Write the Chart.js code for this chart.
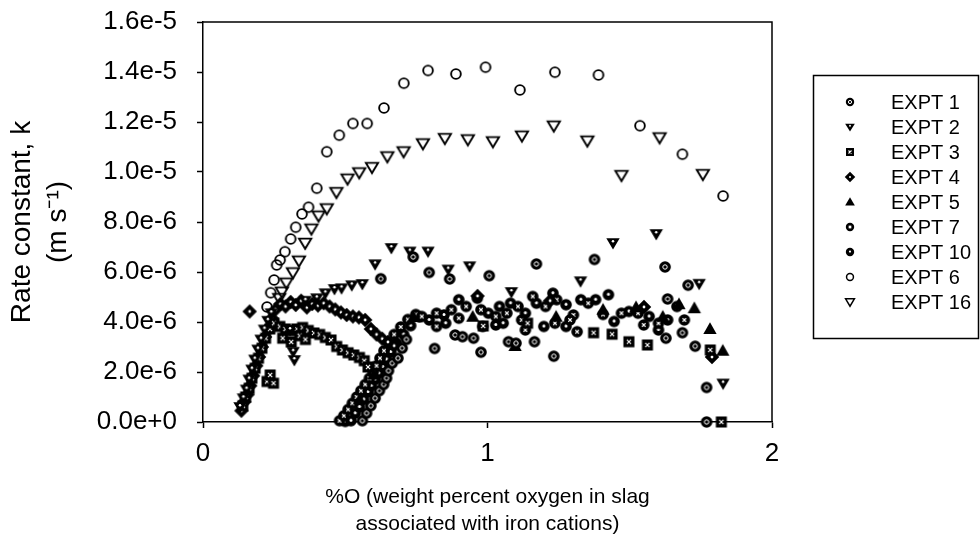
<!DOCTYPE html>
<html>
<head>
<meta charset="utf-8">
<script src="https://cdn.jsdelivr.net/npm/chart.js@4.4.1/dist/chart.umd.min.js"></script>
<style>
html,body{margin:0;padding:0;background:#fff;}
#wrap{width:980px;height:553px;}
</style>
</head>
<body>
<div id="wrap"><canvas id="c" width="980" height="553"></canvas></div>
<script>
// ---------------- DATA (x = %O, y = rate constant k in m/s) ----------------
const seriesNames = ['EXPT 1', 'EXPT 2', 'EXPT 3', 'EXPT 4', 'EXPT 5', 'EXPT 7', 'EXPT 10', 'EXPT 6', 'EXPT 16'];

const expt1 = [[0.625,5.73e-6],[0.739,6.60e-6],[0.795,5.98e-6],[0.867,5.72e-6],[1.006,5.85e-6],[1.172,6.32e-6],[1.376,6.50e-6],[1.624,6.20e-6],[1.705,5.47e-6],[1.633,4.92e-6],[1.730,3.03e-6],[1.770,1.38e-6],[1.770,0.0],[0.814,2.94e-6],[0.977,2.79e-6],[1.233,2.63e-6],[0.886,3.48e-6],[0.912,3.41e-6],[0.951,3.35e-6],[1.074,3.21e-6],[1.100,3.15e-6],[1.165,3.21e-6],[1.627,3.35e-6],[1.685,3.57e-6],[0.560,0.05e-6],[0.575,0.35e-6],[0.590,0.65e-6],[0.605,0.95e-6],[0.620,1.25e-6],[0.635,1.50e-6],[0.645,1.75e-6],[0.652,2.05e-6],[0.665,2.35e-6],[0.685,2.55e-6],[0.700,2.95e-6],[0.715,3.30e-6]];

const expt2 = [[0.130,0.60e-6],[0.142,0.95e-6],[0.153,1.30e-6],[0.162,1.70e-6],[0.172,2.10e-6],[0.182,2.50e-6],[0.193,2.90e-6],[0.204,3.30e-6],[0.216,3.70e-6],[0.228,4.05e-6],[0.240,4.35e-6],[0.306,3.68e-6],[0.317,2.81e-6],[0.321,2.48e-6],[0.360,4.85e-6],[0.400,4.95e-6],[0.430,5.15e-6],[0.462,5.32e-6],[0.487,5.35e-6],[0.523,5.47e-6],[0.560,5.52e-6],[0.605,6.31e-6],[0.662,6.96e-6],[0.727,6.82e-6],[0.791,6.82e-6],[0.862,6.10e-6],[0.937,6.23e-6],[1.084,5.20e-6],[1.327,5.63e-6],[1.441,7.16e-6],[1.593,7.52e-6],[1.744,5.53e-6],[1.828,1.54e-6]];

const expt3 = [[0.140,0.65e-6],[0.150,1.00e-6],[0.162,1.35e-6],[0.172,1.75e-6],[0.183,2.15e-6],[0.195,2.55e-6],[0.207,2.95e-6],[0.220,3.35e-6],[0.235,3.72e-6],[0.250,3.95e-6],[0.225,1.62e-6],[0.248,1.55e-6],[0.236,1.88e-6],[0.270,3.82e-6],[0.290,3.72e-6],[0.310,3.65e-6],[0.330,3.72e-6],[0.350,3.78e-6],[0.370,3.66e-6],[0.390,3.56e-6],[0.410,3.50e-6],[0.430,3.38e-6],[0.450,3.28e-6],[0.470,3.02e-6],[0.490,2.88e-6],[0.510,2.77e-6],[0.530,2.68e-6],[0.550,2.58e-6],[0.567,2.45e-6],[0.580,2.20e-6],[0.280,3.35e-6],[0.310,3.20e-6],[0.340,3.45e-6],[0.360,3.30e-6],[0.985,3.84e-6],[1.141,3.95e-6],[1.373,3.57e-6],[1.438,3.51e-6],[1.497,3.21e-6],[1.562,3.08e-6],[1.783,2.88e-6],[1.822,0.0]];

const expt4 = [[0.135,0.45e-6],[0.145,0.80e-6],[0.157,1.10e-6],[0.166,1.45e-6],[0.176,1.85e-6],[0.187,2.25e-6],[0.197,2.60e-6],[0.207,3.00e-6],[0.218,3.40e-6],[0.229,3.75e-6],[0.242,4.15e-6],[0.255,4.50e-6],[0.164,4.42e-6],[0.272,4.72e-6],[0.290,4.62e-6],[0.308,4.80e-6],[0.326,4.68e-6],[0.345,4.85e-6],[0.365,4.58e-6],[0.384,4.72e-6],[0.404,4.66e-6],[0.424,4.75e-6],[0.445,4.62e-6],[0.465,4.50e-6],[0.485,4.38e-6],[0.505,4.28e-6],[0.527,4.22e-6],[0.548,4.18e-6],[0.570,4.08e-6],[0.590,3.72e-6],[0.610,3.50e-6],[0.630,3.33e-6],[0.650,3.20e-6],[0.672,3.05e-6],[0.965,5.04e-6],[1.220,4.85e-6],[1.550,4.60e-6],[1.789,2.60e-6]];

const expt5 = [[0.550,0.90e-6],[0.600,1.90e-6],[0.680,3.20e-6],[0.740,4.20e-6],[0.948,4.21e-6],[1.097,3.04e-6],[1.241,4.21e-6],[1.406,4.49e-6],[1.522,4.59e-6],[1.616,4.21e-6],[1.673,4.71e-6],[1.727,4.55e-6],[1.782,3.72e-6],[1.827,2.85e-6]];

const expt7 = [[0.480,0.05e-6],[0.495,0.25e-6],[0.510,0.50e-6],[0.525,0.75e-6],[0.540,1.00e-6],[0.555,1.25e-6],[0.570,1.50e-6],[0.585,1.75e-6],[0.598,2.00e-6],[0.610,2.25e-6],[0.622,2.55e-6],[0.636,2.85e-6],[0.652,3.15e-6],[0.672,3.50e-6],[0.695,3.80e-6],[0.720,4.10e-6],[0.748,4.30e-6],[0.769,4.22e-6],[0.821,4.35e-6],[0.873,4.49e-6],[0.925,4.62e-6],[0.977,4.49e-6],[1.029,4.22e-6],[1.068,4.35e-6],[1.107,4.62e-6],[1.159,5.02e-6],[1.204,4.62e-6],[1.243,4.89e-6],[1.302,4.28e-6],[1.354,4.75e-6],[1.406,4.30e-6],[1.471,4.35e-6],[1.529,4.35e-6],[1.601,3.95e-6],[1.666,4.62e-6],[1.692,4.08e-6],[0.899,4.15e-6],[1.120,4.08e-6],[1.290,4.08e-6],[1.549,3.88e-6],[0.821,3.82e-6],[0.983,3.82e-6],[1.133,3.68e-6],[1.237,3.95e-6],[1.315,3.61e-6]];

const expt10 = [[0.500,0.02e-6],[0.520,0.05e-6],[0.535,0.35e-6],[0.550,0.60e-6],[0.565,0.90e-6],[0.580,1.20e-6],[0.592,1.45e-6],[0.605,1.70e-6],[0.618,1.95e-6],[0.632,2.20e-6],[0.645,2.50e-6],[0.660,2.80e-6],[0.680,3.15e-6],[0.705,3.50e-6],[0.730,3.85e-6],[0.760,4.20e-6],[0.795,4.08e-6],[0.847,4.28e-6],[0.899,4.89e-6],[0.964,4.95e-6],[1.003,4.35e-6],[1.042,4.62e-6],[1.081,4.75e-6],[1.133,4.35e-6],[1.172,4.75e-6],[1.230,5.15e-6],[1.276,4.69e-6],[1.328,4.89e-6],[1.380,4.89e-6],[1.425,5.09e-6],[1.497,4.42e-6],[1.568,4.22e-6],[1.633,4.08e-6],[0.853,3.95e-6],[1.029,3.88e-6],[1.198,3.82e-6],[1.276,3.82e-6],[1.055,3.95e-6],[1.445,4.02e-6],[1.601,3.68e-6]];

const expt6 = [[0.225,4.60e-6],[0.238,5.17e-6],[0.250,5.68e-6],[0.259,6.28e-6],[0.271,6.48e-6],[0.288,6.81e-6],[0.308,7.32e-6],[0.326,7.79e-6],[0.348,8.32e-6],[0.371,8.59e-6],[0.400,9.35e-6],[0.435,10.81e-6],[0.479,11.47e-6],[0.527,11.94e-6],[0.577,11.94e-6],[0.636,12.56e-6],[0.706,13.55e-6],[0.791,14.06e-6],[0.889,13.92e-6],[0.993,14.19e-6],[1.114,13.28e-6],[1.237,13.99e-6],[1.390,13.88e-6],[1.536,11.85e-6],[1.685,10.71e-6],[1.828,9.04e-6]];

const expt16 = [[0.268,4.95e-6],[0.277,5.21e-6],[0.293,5.57e-6],[0.316,5.98e-6],[0.337,6.45e-6],[0.359,7.16e-6],[0.381,7.73e-6],[0.406,8.25e-6],[0.435,8.54e-6],[0.469,9.19e-6],[0.508,9.73e-6],[0.549,9.98e-6],[0.594,10.19e-6],[0.648,10.62e-6],[0.705,10.82e-6],[0.773,11.14e-6],[0.850,11.35e-6],[0.931,11.30e-6],[1.019,11.22e-6],[1.121,11.45e-6],[1.233,11.85e-6],[1.351,11.25e-6],[1.471,9.87e-6],[1.605,11.38e-6],[1.757,9.91e-6]];

const xTicks = [0, 1, 2];
const yTickStep = 2e-6;
const yMax = 1.6e-5;

const seriesData = [expt1, expt2, expt3, expt4, expt5, expt7, expt10, expt6, expt16];
const markerKinds = ['circleRing', 'triDownDot', 'squareX', 'diamondDot', 'triUp', 'circleX', 'circleDot', 'circleOpen', 'triDownOpen'];

// ---------------- MARKERS ----------------
function makeMarker(kind, R, lw) {
  let S = Math.ceil(R * 2.7) + 3; if (S % 2) S += 1;
  const c = document.createElement('canvas');
  c.width = S; c.height = S;
  const g = c.getContext('2d');
  const cx = S / 2, cy = S / 2;
  g.fillStyle = '#000'; g.strokeStyle = '#000';
  const disk = () => { g.beginPath(); g.arc(cx, cy, R, 0, Math.PI * 2); g.fill(); };
  const whiteX = (r, w) => { g.strokeStyle = '#fff'; g.lineWidth = w; g.beginPath();
    g.moveTo(cx - r, cy - r); g.lineTo(cx + r, cy + r); g.moveTo(cx + r, cy - r); g.lineTo(cx - r, cy + r); g.stroke(); };
  const whiteDot = (x, y, r) => { g.fillStyle = '#fff'; g.beginPath(); g.arc(x, y, r, 0, Math.PI * 2); g.fill(); };
  switch (kind) {
    case 'circleRing':
      disk(); g.strokeStyle = '#fff'; g.lineWidth = 1;
      g.beginPath(); g.arc(cx, cy, R * 0.38, 0, Math.PI * 2); g.stroke(); break;
    case 'triDownDot':
      g.beginPath(); g.moveTo(cx - 1.15 * R, cy - 0.8 * R); g.lineTo(cx + 1.15 * R, cy - 0.8 * R); g.lineTo(cx, cy + 1.1 * R); g.closePath(); g.fill();
      whiteDot(cx, cy - 0.3 * R, 0.22 * R); break;
    case 'squareX':
      g.fillRect(cx - 0.95 * R, cy - 0.95 * R, 1.9 * R, 1.9 * R); whiteX(0.36 * R, 1.1); break;
    case 'diamondDot':
      g.beginPath(); g.moveTo(cx, cy - 1.25 * R); g.lineTo(cx + 1.25 * R, cy); g.lineTo(cx, cy + 1.25 * R); g.lineTo(cx - 1.25 * R, cy); g.closePath(); g.fill();
      whiteDot(cx, cy, 0.24 * R); break;
    case 'triUp':
      g.beginPath(); g.moveTo(cx, cy - 1.15 * R); g.lineTo(cx + 1.15 * R, cy + 0.85 * R); g.lineTo(cx - 1.15 * R, cy + 0.85 * R); g.closePath(); g.fill(); break;
    case 'circleX':
      disk(); whiteX(0.3 * R, 1.1); break;
    case 'circleDot':
      disk(); whiteDot(cx, cy - 0.1 * R, 0.26 * R); break;
    case 'circleOpen':
      g.lineWidth = lw; g.beginPath(); g.arc(cx, cy, R - lw / 2, 0, Math.PI * 2); g.stroke(); break;
    case 'triDownOpen':
      g.lineWidth = lw; g.lineJoin = 'miter';
      g.beginPath(); g.moveTo(cx - 1.05 * R, cy - 0.75 * R); g.lineTo(cx + 1.05 * R, cy - 0.75 * R); g.lineTo(cx, cy + 1.0 * R); g.closePath(); g.stroke(); break;
  }
  return c;
}

const plotMarkers = markerKinds.map(k => makeMarker(k, 5.8, 1.9));
const legendMarkers = markerKinds.map(k => makeMarker(k, 4.2, 1.5));

const FONT = '"Liberation Sans", Arial, Helvetica, sans-serif';

const datasets = seriesNames.map((name, i) => ({
  label: name,
  data: seriesData[i].map(p => ({ x: p[0], y: p[1] })),
  pointStyle: plotMarkers[i],
  pointRadius: 6,
  showLine: false,
  clip: false,
  borderColor: '#000',
  backgroundColor: '#000'
}));

// ---------------- PLUGINS ----------------
const framePlugin = {
  id: 'frame',
  beforeDatasetsDraw(chart) {
    const { ctx, chartArea: a } = chart;
    ctx.save();
    ctx.strokeStyle = '#000'; ctx.lineWidth = 1.5;
    ctx.beginPath();
    ctx.moveTo(a.left, a.top); ctx.lineTo(a.right, a.top); ctx.lineTo(a.right, a.bottom);
    ctx.stroke();
    ctx.restore();
  }
};

const boxLegend = {
  id: 'boxLegend',
  afterDraw(chart) {
    const ctx = chart.ctx;
    ctx.save();
    ctx.strokeStyle = '#000'; ctx.lineWidth = 1.5;
    ctx.strokeRect(813.5, 75.5, 165, 263);
    ctx.font = '20px ' + FONT;
    ctx.fillStyle = '#000'; ctx.textBaseline = 'middle'; ctx.textAlign = 'left';
    chart.data.datasets.forEach((ds, i) => {
      const cy = 102 + i * 25;
      const img = legendMarkers[i];
      ctx.drawImage(img, Math.round(850 - img.width / 2), Math.round(cy - img.height / 2));
      ctx.fillText(ds.label, 891, cy + 1);
    });
    ctx.restore();
  }
};

// ---------------- CHART ----------------
new Chart(document.getElementById('c'), {
  type: 'scatter',
  data: { datasets },
  options: {
    responsive: false,
    animation: false,
    events: [],
    layout: { padding: { left: 0, right: 208, top: 22, bottom: 0 } },
    plugins: { legend: { display: false }, tooltip: { enabled: false } },
    scales: {
      x: {
        type: 'linear', min: xTicks[0], max: xTicks[xTicks.length - 1],
        afterFit: s => { s.height = 131; },
        afterBuildTicks: s => { s.ticks = xTicks.map(v => ({ value: v })); },
        ticks: { color: '#000', font: { size: 26, family: FONT }, padding: 10, maxRotation: 0 },
        grid: { drawOnChartArea: false, drawTicks: true, tickLength: 6, tickColor: '#000', tickWidth: 1.5 },
        border: { display: true, color: '#000', width: 1.5 },
        title: {
          display: true,
          text: ['%O (weight percent oxygen in slag', 'associated with iron cations)'],
          color: '#000', font: { size: 21, family: FONT, lineHeight: 1.3 },
          padding: { top: 0, bottom: 15 }
        }
      },
      y: {
        type: 'linear', min: 0, max: yMax,
        afterFit: s => { s.width = 203; s.paddingTop = 0; s.paddingBottom = 0; },
        ticks: { stepSize: yTickStep, color: '#000', font: { size: 26, family: FONT }, padding: 20,
                 callback: v => Number(v).toExponential(1) },
        grid: { drawOnChartArea: false, drawTicks: true, tickLength: 6, tickColor: '#000', tickWidth: 1.5 },
        border: { display: true, color: '#000', width: 1.5 },
        title: {
          display: true,
          text: ['Rate constant, k', '(m s\u207B\u00B9)'],
          color: '#000', font: { size: 28, family: FONT, lineHeight: 1.29 },
          padding: { top: 4, bottom: 0 }
        }
      }
    }
  },
  plugins: [framePlugin, boxLegend]
});
</script>
</body>
</html>
